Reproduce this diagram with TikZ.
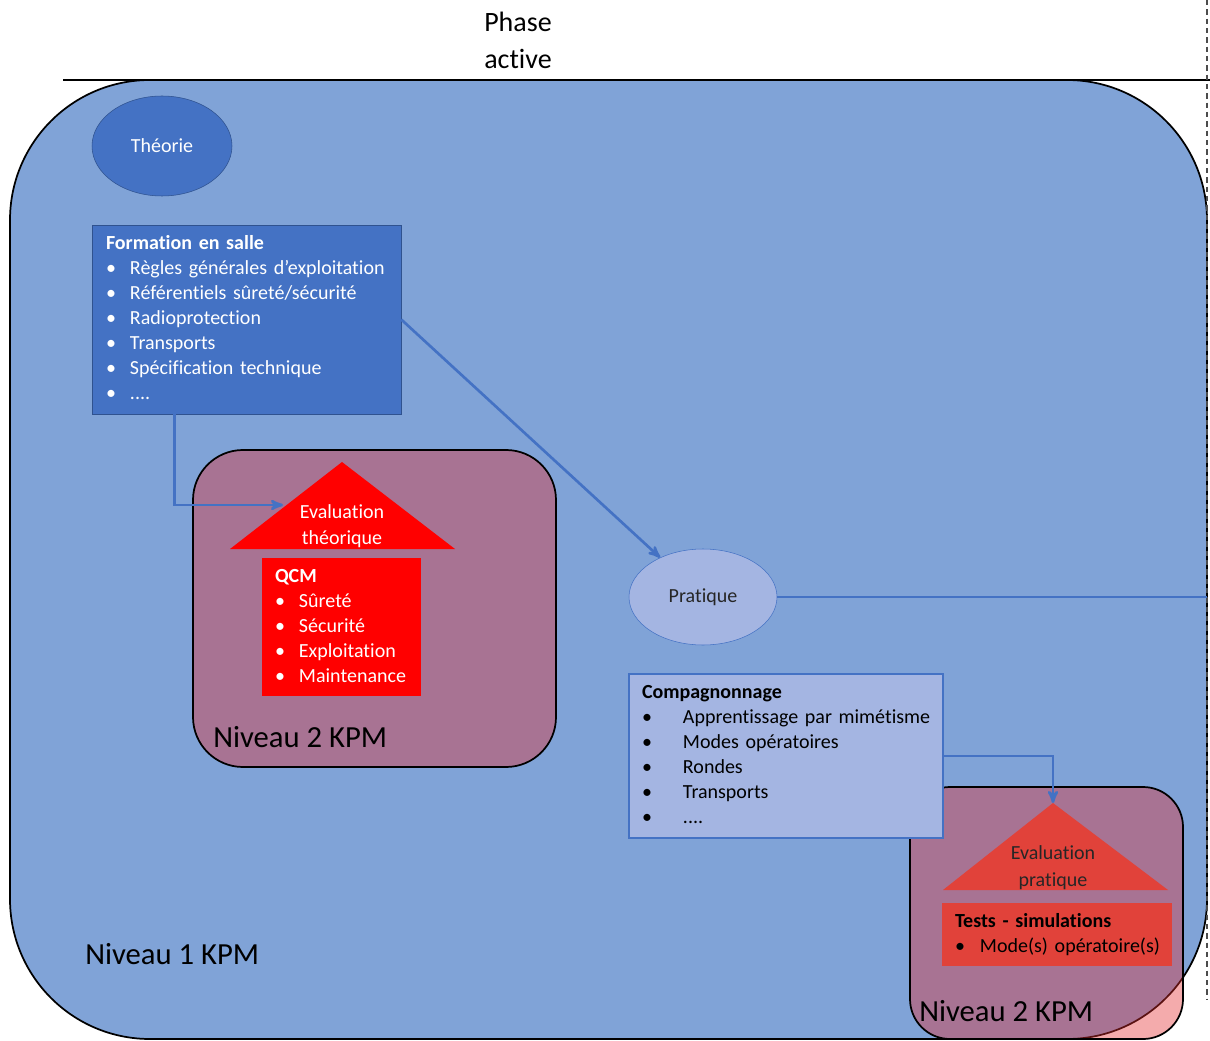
\documentclass[tikz,border=0pt]{standalone}
\usepackage{fontspec}
\setmainfont{Carlito}[Ligatures=NoCommon]
\usepackage{xcolor}
\usepackage{tikz}
\usetikzlibrary{arrows,positioning,shapes.geometric}
\definecolor{fondbleu}{RGB}{128,163,215}
\definecolor{bleu}{RGB}{68,114,196}
\definecolor{bleufonce}{RGB}{47,82,143}
\definecolor{bleuclair}{RGB}{164,181,226}
\definecolor{rouge}{RGB}{255,0,0}
\definecolor{rougeniv}{RGB}{228,45,47}
\definecolor{rougepra}{RGB}{225,66,58}
\newcommand*{\puce}{\textbullet}
\newcommand*{\taille}{\fontsize{15}{18.75}\selectfont}
\newcommand*{\grand}{\fontsize{23}{28}\selectfont}

\begin{document}
\begin{tikzpicture}[ % options de la figure
    x=0.75pt, y=-0.75pt, % 1 unite = 1 pixel de la capture, y vers le bas
    >=stealth', % pointe des fleches
    fleche/.style={->, draw=bleu, line width=2pt},
    liste/.style={rectangle, inner ysep=0pt, align=left, font=\taille},
    bulle/.style={ellipse, inner sep=0pt, font=\taille},
    niveau/.style={draw=black, line width=1.3pt, fill=rougeniv, fill opacity=0.4},
    etiquette/.style={anchor=west, inner sep=0pt, font=\grand}
  ]
  \useasboundingbox (0,0) rectangle (1210,1041);
  %% fond
  \draw[fill=fondbleu, line width=1.3pt, rounded corners=105pt] (10,80) rectangle (1207,1039); % niveau 1
  \draw[line width=2pt] (63,80) -- (1210,80); % limite de phase
  \draw[gray!60!black, line width=1pt, dash pattern=on 4pt off 3pt] (1207,0) -- (1207,1000);
  \node[align=center, font=\fontsize{21}{27.75}\selectfont] (phase) at (518,40) {Phase\\active};
  \node[etiquette] (niv1) at (85,954) {Niveau 1 KPM};

  %% theorie
  \node[bulle, fill=bleu, draw=bleufonce, text=white, minimum width=105pt, minimum height=75pt] (theorie) at (162,146) {Théorie};
  \node[liste, fill=bleu, draw=bleufonce, text=white, inner xsep=10.5pt,
        minimum width=231.75pt, minimum height=141.75pt, text width=210.75pt] (formation) at (246.5,319.5) {%
    \begin{tabular}{@{}p{18pt}@{}l@{}}
      \multicolumn{2}{@{}l@{}}{\textbf{Formation en salle}}\\
      \puce & Règles générales d’exploitation\\
      \puce & Référentiels sûreté/sécurité\\
      \puce & Radioprotection\\
      \puce & Transports\\
      \puce & Spécification technique\\
      \puce & ....
    \end{tabular}};
  \draw[niveau, rounded corners=37.5pt] (193,450) rectangle (556,767); % niveau 2
  \fill[rouge] (230,549) -- (342,462) coordinate (evalth-s) -- (455,549) -- cycle;
  \node[align=center, text=white, font=\fontsize{15}{19.5}\selectfont] (evalth) at (342,526) {Evaluation\\théorique};
  \coordinate (entree-th) at (283,505);
  \node[liste, fill=rouge, text=white, inner xsep=9.75pt,
        minimum width=119.25pt, minimum height=103.5pt, text width=99.75pt] (qcm) at (341.5,627) {%
    \begin{tabular}{@{}p{18pt}@{}l@{}}
      \multicolumn{2}{@{}l@{}}{\textbf{QCM}}\\
      \puce & Sûreté\\
      \puce & Sécurité\\
      \puce & Exploitation\\
      \puce & Maintenance
    \end{tabular}};
  \node[etiquette] (niv2th) at (213,737) {Niveau 2 KPM};

  %% pratique
  \node[bulle, fill=bleuclair, draw=bleu, text=black!85, minimum width=111pt, minimum height=72pt] (pratique) at (703,597) {Pratique};
  \coordinate (limite) at (1207,597);
  \draw[niveau, rounded corners=30pt] (910,787) rectangle (1183,1039); % niveau 2
  \fill[rougepra] (943,890) -- (1053,803) coordinate (evalpr-s) -- (1168,890) -- cycle;
  \node[align=center, text=black!85, font=\fontsize{15}{20.25}\selectfont] (evalpr) at (1053,867.5) {Evaluation\\pratique};
  \node[liste, fill=rougepra, text=black, inner xsep=9.75pt,
        minimum width=172.5pt, minimum height=47.25pt, text width=153pt] (tests) at (1057,934.5) {%
    \begin{tabular}{@{}p{18.75pt}@{}l@{}}
      \multicolumn{2}{@{}l@{}}{\textbf{Tests - simulations}}\\
      \puce & Mode(s) opératoire(s)
    \end{tabular}};
  \node[etiquette] (niv2pr) at (919,1011) {Niveau 2 KPM};
  \node[liste, fill=bleuclair, draw=bleu, line width=0.8pt, text=black, inner xsep=9.75pt,
        minimum width=235.5pt, minimum height=123pt, text width=216pt] (compagnonnage) at (786,756) {%
    \begin{tabular}{@{}p{30.75pt}@{}l@{}}
      \multicolumn{2}{@{}l@{}}{\textbf{Compagnonnage}}\\
      \puce & Apprentissage par mimétisme\\
      \puce & Modes opératoires\\
      \puce & Rondes\\
      \puce & Transports\\
      \puce & ....
    \end{tabular}};

  %% path
  \draw[fleche] ([xshift=62.25pt]formation.south west) |- (entree-th);
  \draw[fleche] (formation.east) -- (pratique);
  \draw[bleu, line width=2pt] (pratique) -- (limite);
  \draw[fleche] (compagnonnage.east) -| (evalpr-s);
\end{tikzpicture}
\end{document}
